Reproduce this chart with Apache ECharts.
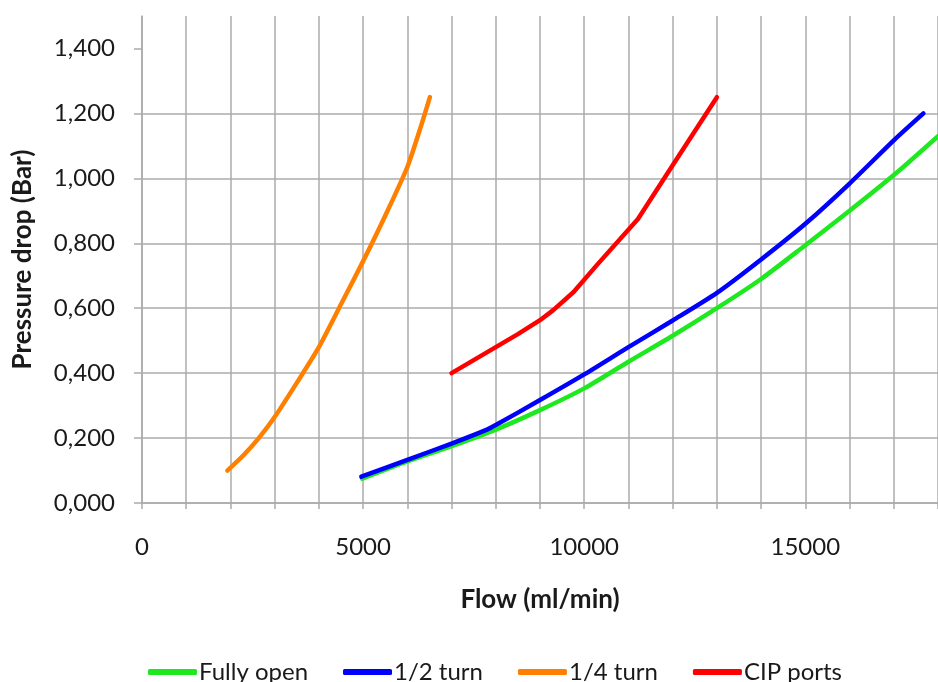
<!DOCTYPE html>
<html>
<head>
<meta charset="utf-8">
<script src="https://cdn.jsdelivr.net/npm/echarts@6/dist/echarts.min.js"></script>
<style>
html,body{margin:0;padding:0;background:#fff;}
#chart{width:938px;height:682px;}
</style>
</head>
<body>
<div id="chart"></div>
<script>
// Data: [flow (ml/min), pressure drop (bar)]
var seriesNames = ['Fully open', '1/2 turn', '1/4 turn', 'CIP ports'];
var fullyOpen = [[4980,0.075],[6000,0.128],[7000,0.175],[8000,0.226],[9000,0.286],[10000,0.353],[11000,0.435],[12000,0.515],[13000,0.600],[14000,0.690],[15000,0.794],[16000,0.900],[17000,1.010],[18000,1.130]];
var halfTurn = [[4960,0.081],[6000,0.133],[7000,0.183],[7800,0.226],[8000,0.240],[9000,0.317],[10000,0.396],[11000,0.480],[12000,0.562],[13000,0.647],[14000,0.750],[15000,0.860],[16000,0.984],[17000,1.117],[17670,1.200]];
var quarterTurn = [[1930,0.100],[2300,0.148],[2640,0.200],[3000,0.265],[3500,0.370],[4000,0.480],[4500,0.612],[5000,0.745],[5500,0.885],[6000,1.035],[6330,1.170],[6510,1.250]];
var cipPorts = [[7000,0.400],[8000,0.480],[8500,0.520],[9000,0.563],[9300,0.594],[9760,0.650],[10300,0.735],[11215,0.875],[12000,1.040],[12500,1.145],[13000,1.250]];
var yTickValues = [0, 0.2, 0.4, 0.6, 0.8, 1.0, 1.2, 1.4];
var xTickLabels = [0, 5000, 10000, 15000];
var colors = ['#1ee81e', '#0000ff', '#ff8000', '#ff0000'];

var FONT = 'Lato';
var chart = echarts.init(document.getElementById('chart'), null, {renderer: 'canvas'});
var gridColor = '#ababab';
var dataSets = [fullyOpen, halfTurn, quarterTurn, cipPorts];

chart.setOption({
  animation: false,
  backgroundColor: '#ffffff',
  textStyle: {fontFamily: FONT, color: '#1a1a1a'},
  grid: {left: 142, top: 16, bottom: 179, right: -9, containLabel: false},
  legend: {
    left: 143, top: 655,
    itemWidth: 49, itemHeight: 6, itemGap: 35,
    icon: 'roundRect',
    textStyle: {fontFamily: FONT, fontSize: 24, color: '#1a1a1a', padding: [0,0,0,-3]},
    data: seriesNames
  },
  xAxis: {
    type: 'value', min: 0, max: 18000, interval: 1000,
    name: 'Flow (ml/min)', nameLocation: 'middle', nameGap: 84,
    nameTextStyle: {fontFamily: FONT, fontSize: 26, fontWeight: 'bold', color: '#1a1a1a'},
    axisLine: {show: true, lineStyle: {color: gridColor, width: 1.5}},
    axisTick: {show: true, length: 6, lineStyle: {color: gridColor, width: 1.5}},
    axisLabel: {customValues: xTickLabels, margin: 32, fontFamily: FONT, fontSize: 24, color: '#1a1a1a',
      formatter: function(v){ return String(v); }},
    splitLine: {show: true, lineStyle: {color: gridColor, width: 1.5}}
  },
  yAxis: {
    type: 'value', min: 0, max: 1.5, interval: 0.2,
    name: 'Pressure drop (Bar)', nameLocation: 'middle', nameGap: 106,
    nameTextStyle: {fontFamily: FONT, fontSize: 26, fontWeight: 'bold', color: '#1a1a1a'},
    axisLine: {show: true, lineStyle: {color: gridColor, width: 1.5}},
    axisTick: {show: true, length: 8, customValues: yTickValues, lineStyle: {color: gridColor, width: 1.5}},
    axisLabel: {customValues: yTickValues, margin: 27, fontFamily: FONT, fontSize: 24, color: '#1a1a1a',
      formatter: function(v){ return v.toFixed(3).replace('.', ','); }},
    splitLine: {show: true, showMaxLine: false, lineStyle: {color: gridColor, width: 1.5}}
  },
  series: dataSets.map(function(d, i){
    return {
      name: seriesNames[i], type: 'line', data: d,
      color: colors[i],
      symbol: 'none', showSymbol: false,
      smooth: i === 3 ? false : 0.25,
      lineStyle: {width: 4.5, color: colors[i], cap: 'round', join: 'round'},
      itemStyle: {color: colors[i]}
    };
  })
});
</script>
</body>
</html>
